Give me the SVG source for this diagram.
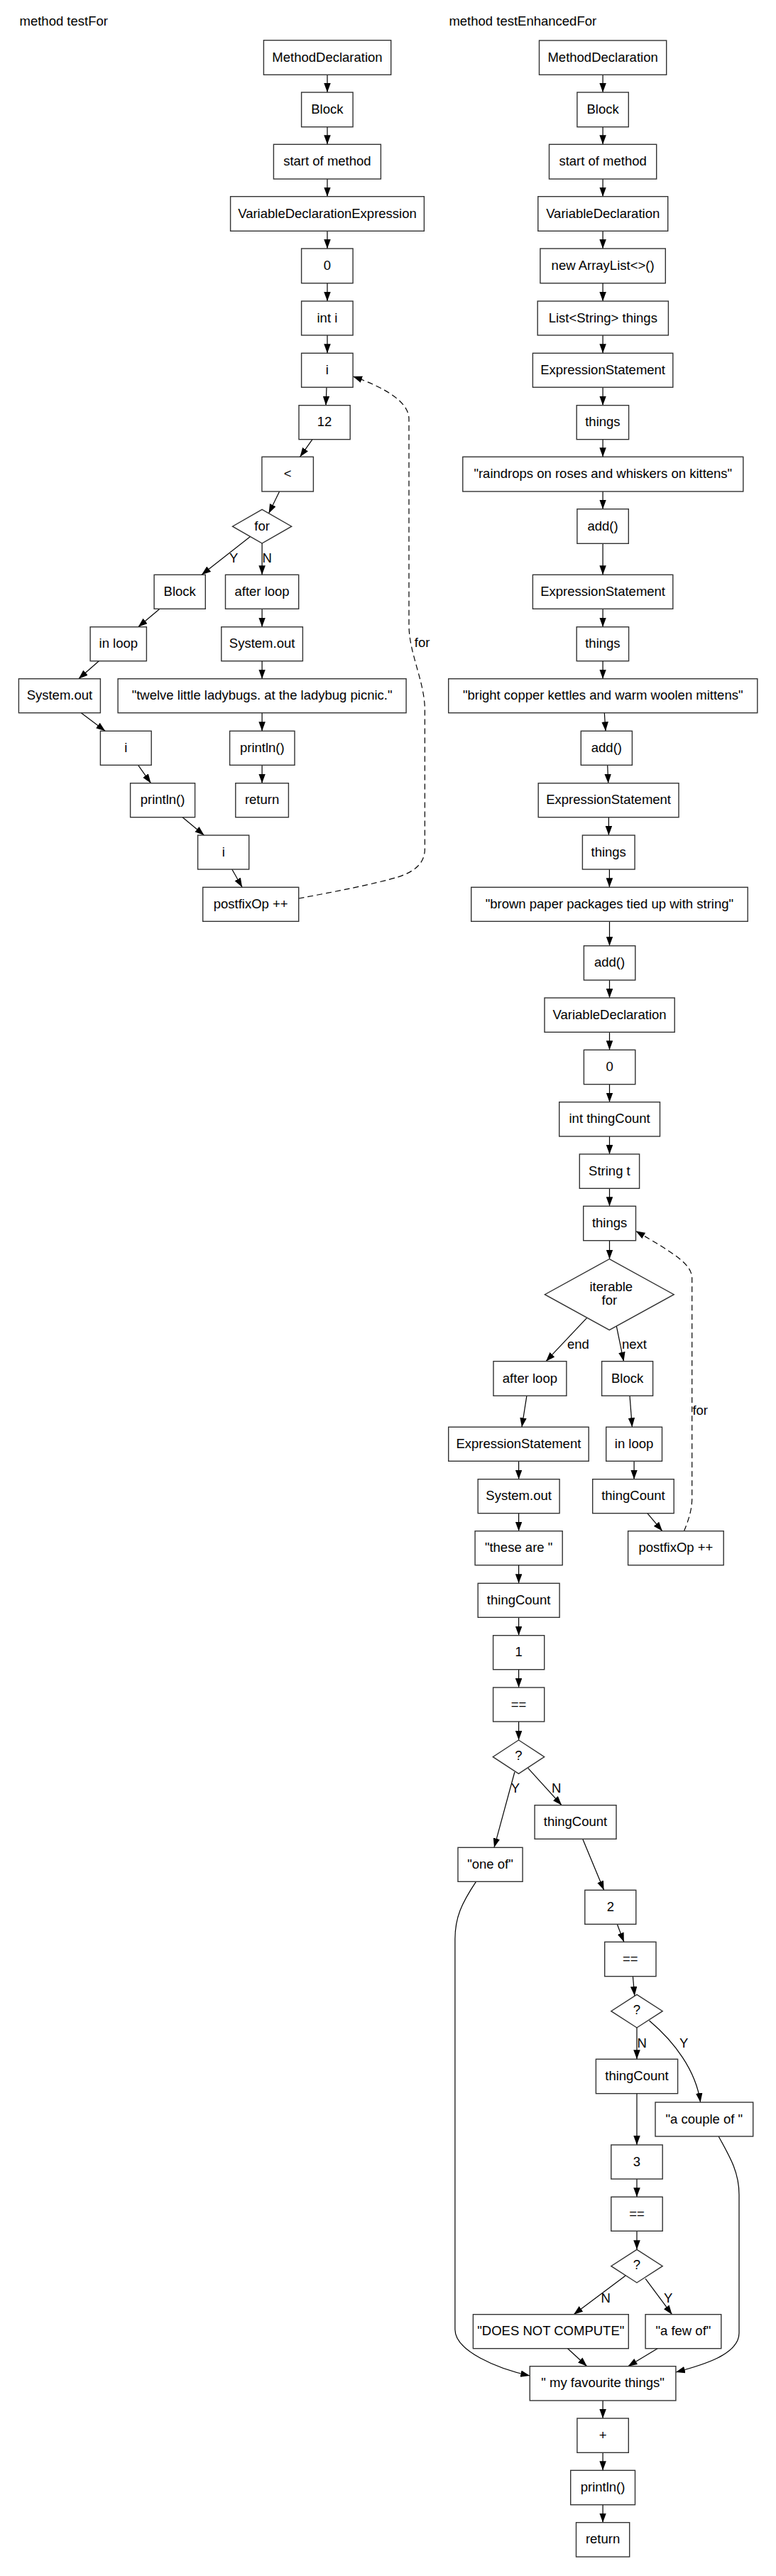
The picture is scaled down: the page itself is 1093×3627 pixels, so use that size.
<svg xmlns="http://www.w3.org/2000/svg" width="1093" height="3627" viewBox="0 0 1093 3627">
<style>
text{font-family:"Liberation Sans",Arial,sans-serif;font-size:18.5px;fill:#000;text-anchor:middle}
.t{text-anchor:start}
.n rect,.n polygon{fill:#fff;stroke:#333;stroke-width:1.4}
.e{fill:none;stroke:#000;stroke-width:1.2;marker-end:url(#a)}
.d{stroke-dasharray:8 5}
</style>
<defs>
<marker id="a" markerUnits="userSpaceOnUse" markerWidth="14" markerHeight="10" refX="13" refY="4.75" orient="auto"><path d="M0,0 L13,4.75 L0,9.5 z" fill="#000"/></marker>
</defs>
<rect width="1093" height="3627" fill="#fff"/>
<text class="t" x="27.5" y="36">method testFor</text>
<text class="t" x="632.4" y="36">method testEnhancedFor</text>

<g id="connectors">
<path class="e" d="M461,105.3 L461,130"/>
<path class="e" d="M461,178.7 L461,203.3"/>
<path class="e" d="M461,252 L461,276.7"/>
<path class="e" d="M461,325.3 L461,350"/>
<path class="e" d="M461,398.7 L461,424"/>
<path class="e" d="M461,472 L461,497.3"/>
<path class="e" d="M460,545.3 L459,570.7"/>
<path class="e" d="M440,618.7 L422.5,643.3"/>
<path class="e" d="M393.6,692 L378.6,722.8"/>
<path class="e" d="M352.5,755.5 L284,809.3"/>
<path class="e" d="M369.1,765 L369.1,809.3"/>
<path class="e" d="M225,857.3 L194.6,882.7"/>
<path class="e" d="M369.1,857.3 L369.1,882.7"/>
<path class="e" d="M139.3,930.7 L110.7,955.7"/>
<path class="e" d="M369.1,930.7 L369.1,955.7"/>
<path class="e" d="M114.3,1003.7 L148.2,1029.3"/>
<path class="e" d="M369.1,1003.7 L369.1,1029.3"/>
<path class="e" d="M194.6,1077.3 L212.5,1102.7"/>
<path class="e" d="M369.1,1077.3 L369.1,1102.7"/>
<path class="e" d="M257.1,1150.7 L287.5,1176"/>
<path class="e" d="M326.8,1224 L341.1,1249.3"/>
<path class="e d" d="M420.7,1265 C470,1256 530,1244 560,1235 C585,1227 598.4,1215 598.4,1195 L598.4,1000 C598.4,960 576,920 576,880 L576,590 C576,565 540,545 497.1,530"/>
<text class="t" x="583.8" y="911">for</text>

<path class="e" d="M849.1,105.3 L849.1,130"/>
<path class="e" d="M849.1,178.7 L849.1,203.3"/>
<path class="e" d="M849.1,252 L849.1,276.7"/>
<path class="e" d="M849.1,325.3 L849.1,350"/>
<path class="e" d="M849.1,398.7 L849.1,424"/>
<path class="e" d="M849.1,472 L849.1,497.3"/>
<path class="e" d="M849.1,545.3 L849.1,570.7"/>
<path class="e" d="M849.1,618.7 L849.1,643.3"/>
<path class="e" d="M849.1,692 L849.1,716.7"/>
<path class="e" d="M849.1,765.3 L849.1,809.3"/>
<path class="e" d="M849.1,857.3 L849.1,882.7"/>
<path class="e" d="M849.1,930.7 L849.1,955.7"/>
<path class="e" d="M851.3,1003.7 L853,1029.3"/>
<path class="e" d="M855.7,1077.3 L856.7,1102.7"/>
<path class="e" d="M857.4,1150.7 L857.4,1176"/>
<path class="e" d="M858.4,1224 L858.4,1249.3"/>
<path class="e" d="M858.5,1297.3 L858.5,1331.7"/>
<path class="e" d="M858.5,1380 L858.5,1405"/>
<path class="e" d="M858.5,1453.3 L858.5,1478.3"/>
<path class="e" d="M858.5,1526.7 L858.5,1551.7"/>
<path class="e" d="M858.5,1600 L858.5,1625"/>
<path class="e" d="M858.5,1673.3 L858.5,1698.3"/>
<path class="e" d="M858.5,1746.7 L858.5,1772.7"/>
<path class="e" d="M826.8,1855.4 L769,1916.7"/>
<text class="t" x="799" y="1899">end</text>
<path class="e" d="M868.3,1867.2 L878.5,1916.7"/>
<text class="t" x="876" y="1899">next</text>
<path class="e" d="M741.9,1965.3 L735,2009.3"/>
<path class="e" d="M887,1965.3 L890.4,2009.3"/>
<path class="e" d="M730.6,2057.3 L730.6,2082.7"/>
<path class="e" d="M893.1,2057.3 L893.1,2082.7"/>
<path class="e" d="M730.6,2130.7 L730.6,2155.7"/>
<path class="e" d="M911.8,2130.7 L932.9,2155.7"/>
<path class="e d" d="M963.5,2155.7 C970,2140 974.7,2125 974.7,2110 L974.7,1800 C974.7,1780 950,1765 895.5,1733.3"/>
<text class="t" x="975.4" y="1991.7">for</text>
<path class="e" d="M730.6,2203.7 L730.6,2229.3"/>
<path class="e" d="M730.6,2277.3 L730.6,2302.7"/>
<path class="e" d="M730.6,2350.7 L730.6,2376"/>
<path class="e" d="M730.6,2424 L730.6,2450"/>
<path class="e" d="M724.9,2495 L696,2601.3"/>
<text class="t" x="719.8" y="2524">Y</text>
<path class="e" d="M743.6,2489.3 L791.1,2541.7"/>
<text class="t" x="776.9" y="2524">N</text>
<path class="e" d="M820.7,2589.3 L850.6,2661.3"/>
<path class="e" d="M869.3,2709.3 L878.8,2734.3"/>
<path class="e" d="M891.4,2782.7 L893.8,2810"/>
<path class="e" d="M897,2855 L897,2899.3"/>
<text class="t" x="897.5" y="2882.7">N</text>
<path class="e" d="M914.5,2845 C950,2875 980,2915 986.6,2960"/>
<text class="t" x="957" y="2882.7">Y</text>
<path class="e" d="M897,2947.7 L897,3020"/>
<path class="e" d="M897,3068 L897,3093.3"/>
<path class="e" d="M897,3141.3 L897,3167.3"/>
<path class="e" d="M881.2,3204 L808.1,3258.7"/>
<text class="t" x="846.6" y="3242.3">N</text>
<path class="e" d="M909.1,3208.3 L946.5,3258.7"/>
<text class="t" x="934.9" y="3242.3">Y</text>
<path class="e" d="M670.5,2649.3 C650,2680 640.9,2700 640.9,2730 L640.9,3280 C640.9,3310 700,3335 746.3,3345"/>
<path class="e" d="M1012.1,3008 C1030,3040 1041,3060 1041,3090 L1041,3285 C1041,3315 990,3330 951.9,3340"/>
<path class="e" d="M799.6,3306.7 L826.8,3331.7"/>
<path class="e" d="M926.1,3306.7 L884.6,3331.7"/>
<path class="e" d="M849.1,3380 L849.1,3405"/>
<path class="e" d="M849.1,3453.3 L849.1,3478.3"/>
<path class="e" d="M849.1,3526.7 L849.1,3551.7"/>
</g>

<g id="L1" class="n"><rect x="371.4" y="56.7" width="179.3" height="48.6"/><text x="461" y="86.5">MethodDeclaration</text></g>
<g id="L2" class="n"><rect x="424.6" y="130" width="72.5" height="48.7"/><text x="460.9" y="159.8">Block</text></g>
<g id="L3" class="n"><rect x="385.4" y="203.3" width="151" height="48.7"/><text x="460.9" y="233.2">start of method</text></g>
<g id="L4" class="n"><rect x="324.6" y="276.7" width="272.8" height="48.6"/><text x="461" y="306.5">VariableDeclarationExpression</text></g>
<g id="L5" class="n"><rect x="424.6" y="350" width="72.5" height="48.7"/><text x="460.9" y="379.8">0</text></g>
<g id="L6" class="n"><rect x="424.6" y="424" width="72.5" height="48"/><text x="460.9" y="453.5">int i</text></g>
<g id="L7" class="n"><rect x="424.6" y="497.3" width="72.5" height="48"/><text x="460.9" y="526.8">i</text></g>
<g id="L8" class="n"><rect x="421" y="570.7" width="72.2" height="48"/><text x="457.1" y="600.2">12</text></g>
<g id="L9" class="n"><rect x="368.9" y="643.3" width="72.5" height="48.7"/><text x="405.2" y="673.2">&lt;</text></g>
<g id="L10" class="n"><polygon points="369.1,717.3 410.7,741.2 369.1,765 327.5,741.2"/><text x="369.1" y="746.7">for</text></g>
<text class="t" x="323" y="791.7">Y</text>
<text class="t" x="369.6" y="791.7">N</text>
<g id="L11" class="n"><rect x="217.1" y="809.3" width="72.2" height="48"/><text x="253.2" y="838.8">Block</text></g>
<g id="L12" class="n"><rect x="317.5" y="809.3" width="103.2" height="48"/><text x="369.1" y="838.8">after loop</text></g>
<g id="L13" class="n"><rect x="127.1" y="882.7" width="79.3" height="48"/><text x="166.8" y="912.2">in loop</text></g>
<g id="L14" class="n"><rect x="311.8" y="882.7" width="114.6" height="48"/><text x="369.1" y="912.2">System.out</text></g>
<g id="L15" class="n"><rect x="26.4" y="955.7" width="115" height="48"/><text x="83.9" y="985.2">System.out</text></g>
<g id="L16" class="n"><rect x="166.1" y="955.7" width="406" height="48"/><text x="369.1" y="985.2">"twelve little ladybugs. at the ladybug picnic."</text></g>
<g id="L17" class="n"><rect x="141.4" y="1029.3" width="71.8" height="48"/><text x="177.3" y="1058.8">i</text></g>
<g id="L18" class="n"><rect x="323.6" y="1029.3" width="91.4" height="48"/><text x="369.3" y="1058.8">println()</text></g>
<g id="L19" class="n"><rect x="183.6" y="1102.7" width="91" height="48"/><text x="229.1" y="1132.2">println()</text></g>
<g id="L20" class="n"><rect x="331.8" y="1102.7" width="74.6" height="48"/><text x="369.1" y="1132.2">return</text></g>
<g id="L21" class="n"><rect x="278.6" y="1176" width="72.1" height="48"/><text x="314.7" y="1205.5">i</text></g>
<g id="L22" class="n"><rect x="285.7" y="1249.3" width="135" height="48"/><text x="353.2" y="1278.8">postfixOp ++</text></g>

<g id="R1" class="n"><rect x="759.5" y="57" width="179.2" height="48.3"/><text x="849.1" y="86.6">MethodDeclaration</text></g>
<g id="R2" class="n"><rect x="812.9" y="130" width="72.4" height="48.7"/><text x="849.1" y="159.8">Block</text></g>
<g id="R3" class="n"><rect x="773.5" y="203.3" width="151.2" height="48.7"/><text x="849.1" y="233.2">start of method</text></g>
<g id="R4" class="n"><rect x="757.8" y="276.7" width="182.9" height="48.6"/><text x="849.2" y="306.5">VariableDeclaration</text></g>
<g id="R5" class="n"><rect x="760.9" y="350" width="176.4" height="48.7"/><text x="849.1" y="379.8">new ArrayList&lt;&gt;()</text></g>
<g id="R6" class="n"><rect x="757.2" y="424" width="184.2" height="48"/><text x="849.3" y="453.5">List&lt;String&gt; things</text></g>
<g id="R7" class="n"><rect x="750.4" y="497.3" width="197.4" height="48"/><text x="849.1" y="526.8">ExpressionStatement</text></g>
<g id="R8" class="n"><rect x="812.2" y="570.7" width="73.4" height="48"/><text x="848.9" y="600.2">things</text></g>
<g id="R9" class="n"><rect x="651.8" y="643.3" width="395" height="48.7"/><text x="849.3" y="673.2">"raindrops on roses and whiskers on kittens"</text></g>
<g id="R10" class="n"><rect x="812.9" y="716.7" width="72.4" height="48.6"/><text x="849.1" y="746.5">add()</text></g>
<g id="R11" class="n"><rect x="750.4" y="809.3" width="197.4" height="48"/><text x="849.1" y="838.8">ExpressionStatement</text></g>
<g id="R12" class="n"><rect x="812.2" y="882.7" width="73.4" height="48"/><text x="848.9" y="912.2">things</text></g>
<g id="R13" class="n"><rect x="631.7" y="955.7" width="435.1" height="48"/><text x="849.2" y="985.2">"bright copper kettles and warm woolen mittens"</text></g>
<g id="R14" class="n"><rect x="818.3" y="1029.3" width="72.1" height="48"/><text x="854.4" y="1058.8">add()</text></g>
<g id="R15" class="n"><rect x="758.2" y="1102.7" width="197.8" height="48"/><text x="857.1" y="1132.2">ExpressionStatement</text></g>
<g id="R16" class="n"><rect x="820.4" y="1176" width="73.7" height="48"/><text x="857.2" y="1205.5">things</text></g>
<g id="R17" class="n"><rect x="663.7" y="1249.3" width="389.5" height="48"/><text x="858.4" y="1278.8">"brown paper packages tied up with string"</text></g>
<g id="R18" class="n"><rect x="822.4" y="1331.7" width="72.4" height="48.3"/><text x="858.6" y="1361.3">add()</text></g>
<g id="R19" class="n"><rect x="767" y="1405" width="183.2" height="48.3"/><text x="858.6" y="1434.6">VariableDeclaration</text></g>
<g id="R20" class="n"><rect x="822.4" y="1478.3" width="72.4" height="48.4"/><text x="858.6" y="1508">0</text></g>
<g id="R21" class="n"><rect x="787.7" y="1551.7" width="141.8" height="48.3"/><text x="858.6" y="1581.3">int thingCount</text></g>
<g id="R22" class="n"><rect x="816.3" y="1625" width="84.3" height="48.3"/><text x="858.4" y="1654.6">String t</text></g>
<g id="R23" class="n"><rect x="821.7" y="1698.3" width="73.8" height="48.4"/><text x="858.6" y="1728">things</text></g>
<g id="R24" class="n"><polygon points="858.3,1772.7 949.2,1822.7 858.3,1872.7 767.4,1822.7"/><text x="860.8" y="1818.3">iterable</text><text x="858.3" y="1837.3">for</text></g>
<g id="R25" class="n"><rect x="695" y="1916.7" width="102.9" height="48.6"/><text x="746.4" y="1946.5">after loop</text></g>
<g id="R26" class="n"><rect x="847.6" y="1916.7" width="72" height="48.6"/><text x="883.6" y="1946.5">Block</text></g>
<g id="R27" class="n"><rect x="631.7" y="2009.3" width="197.5" height="48"/><text x="730.4" y="2038.8">ExpressionStatement</text></g>
<g id="R28" class="n"><rect x="853.7" y="2009.3" width="78.8" height="48"/><text x="893.1" y="2038.8">in loop</text></g>
<g id="R29" class="n"><rect x="673.2" y="2082.7" width="114.9" height="48"/><text x="730.6" y="2112.2">System.out</text></g>
<g id="R30" class="n"><rect x="834.7" y="2082.7" width="114.5" height="48"/><text x="891.9" y="2112.2">thingCount</text></g>
<g id="R31" class="n"><rect x="669.1" y="2155.7" width="123.1" height="48"/><text x="730.6" y="2185.2">"these are "</text></g>
<g id="R32" class="n"><rect x="884.6" y="2155.7" width="134.6" height="48"/><text x="951.9" y="2185.2">postfixOp ++</text></g>
<g id="R33" class="n"><rect x="673.2" y="2229.3" width="114.9" height="48"/><text x="730.6" y="2258.8">thingCount</text></g>
<g id="R34" class="n"><rect x="694.6" y="2302.7" width="72.1" height="48"/><text x="730.6" y="2332.2">1</text></g>
<g id="R35" class="n"><rect x="694.6" y="2376" width="72.1" height="48"/><text x="730.6" y="2405.5">==</text></g>
<g id="R36" class="n"><polygon points="730.5,2450 766.7,2473.7 730.5,2497.3 694.3,2473.7"/><text x="730.5" y="2478.3">?</text></g>
<g id="R37" class="n"><rect x="753.1" y="2541.7" width="114.9" height="47.6"/><text x="810.5" y="2571">thingCount</text></g>
<g id="R38" class="n"><rect x="645" y="2601.3" width="91.1" height="48"/><text x="690.5" y="2630.8">"one of"</text></g>
<g id="R39" class="n"><rect x="823.8" y="2661.3" width="72" height="48"/><text x="859.8" y="2690.8">2</text></g>
<g id="R40" class="n"><rect x="851.7" y="2734.3" width="72.3" height="48.4"/><text x="887.8" y="2764">==</text></g>
<g id="R41" class="n"><polygon points="897,2808.3 933.2,2831.7 897,2855 860.8,2831.7"/><text x="897" y="2836.3">?</text></g>
<g id="R42" class="n"><rect x="839.4" y="2899.3" width="115.2" height="48.4"/><text x="897" y="2929">thingCount</text></g>
<g id="R43" class="n"><rect x="923" y="2960" width="137.7" height="48"/><text x="991.8" y="2989.5">"a couple of "</text></g>
<g id="R44" class="n"><rect x="860.8" y="3020" width="72.4" height="48"/><text x="897" y="3049.5">3</text></g>
<g id="R45" class="n"><rect x="860.8" y="3093.3" width="72.4" height="48"/><text x="897" y="3122.8">==</text></g>
<g id="R46" class="n"><polygon points="897,3167.3 933.2,3190.7 897,3214 860.8,3190.7"/><text x="897" y="3195.3">?</text></g>
<g id="R47" class="n"><rect x="666.4" y="3258.7" width="218.9" height="48"/><text x="775.8" y="3288.2">"DOES NOT COMPUTE"</text></g>
<g id="R48" class="n"><rect x="909.1" y="3258.7" width="106.7" height="48"/><text x="962.4" y="3288.2">"a few of"</text></g>
<g id="R49" class="n"><rect x="746.3" y="3331.7" width="205.6" height="48.3"/><text x="849.1" y="3361.3">" my favourite things"</text></g>
<g id="R50" class="n"><rect x="812.9" y="3405" width="72.4" height="48.3"/><text x="849.1" y="3434.6">+</text></g>
<g id="R51" class="n"><rect x="803.7" y="3478.3" width="90.8" height="48.4"/><text x="849.1" y="3508">println()</text></g>
<g id="R52" class="n"><rect x="811.5" y="3551.7" width="75.2" height="48.3"/><text x="849.1" y="3581.3">return</text></g>
</svg>
